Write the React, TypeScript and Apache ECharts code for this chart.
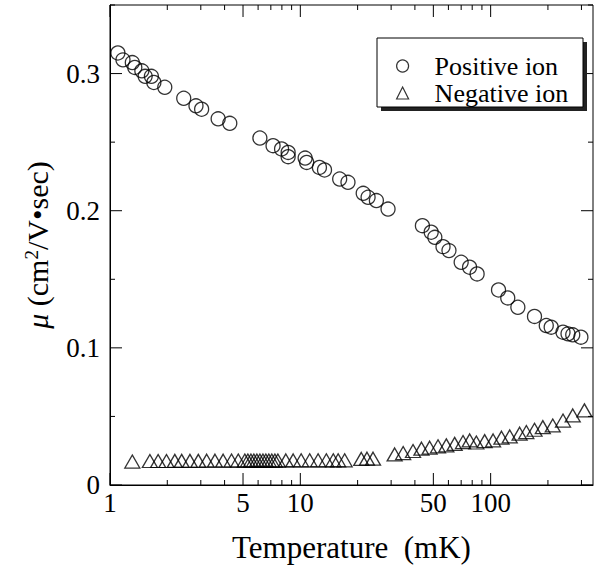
import React, { useEffect, useRef } from "react";
import * as echarts from "echarts";

// ---- data ----
const posT = [1.10, 1.17, 1.31, 1.35, 1.47, 1.53, 1.65, 1.70, 1.94, 2.44, 2.83, 3.03, 3.70, 4.26, 6.13, 7.19, 7.97, 8.63, 8.63, 10.6, 10.8, 12.6, 13.4, 16.1, 17.8, 21.4, 22.7, 25.1, 28.9, 43.8, 48.7, 50.9, 56.2, 60.4, 70.0, 77.5, 84.9, 110, 123, 139, 170, 196, 208, 240, 255, 270, 298];
const posMu = [0.315, 0.310, 0.308, 0.3045, 0.302, 0.298, 0.298, 0.2935, 0.290, 0.282, 0.2765, 0.274, 0.267, 0.2637, 0.253, 0.2474, 0.245, 0.2425, 0.2394, 0.2384, 0.2352, 0.2316, 0.2297, 0.2231, 0.2207, 0.2127, 0.2098, 0.2074, 0.2012, 0.1891, 0.1843, 0.1806, 0.1738, 0.1709, 0.1624, 0.1588, 0.1539, 0.1422, 0.1364, 0.1296, 0.1229, 0.1163, 0.1151, 0.1114, 0.1102, 0.1095, 0.1078];

const negT = [1.31, 1.62, 1.79, 1.98, 2.19, 2.38, 2.63, 2.91, 3.22, 3.56, 3.93, 4.35, 4.72, 5.11, 5.30, 5.50, 5.70, 5.91, 6.13, 6.36, 6.59, 6.83, 7.08, 7.35, 7.62, 8.39, 9.17, 10.1, 11.2, 12.4, 13.7, 14.9, 15.8, 17.1, 20.9, 22.4, 24.1, 31.3, 34.7, 39.1, 43.3, 47.8, 52.9, 58.5, 64.7, 71.6, 77.6, 84.1, 93.0, 103, 114, 126, 142, 154, 170, 188, 212, 240, 270, 311];
const negMu = [0.0171, 0.0175, 0.0175, 0.0175, 0.0176, 0.0176, 0.0176, 0.0176, 0.0177, 0.0177, 0.0177, 0.0178, 0.0178, 0.0178, 0.0178, 0.0178, 0.0178, 0.0178, 0.0178, 0.0178, 0.0178, 0.0178, 0.0178, 0.0178, 0.0178, 0.0179, 0.0179, 0.0180, 0.0180, 0.0180, 0.0180, 0.0180, 0.0180, 0.0180, 0.0190, 0.0192, 0.0192, 0.0223, 0.0233, 0.0248, 0.0265, 0.0272, 0.0282, 0.0289, 0.0300, 0.0313, 0.0325, 0.0310, 0.0320, 0.0325, 0.0345, 0.0354, 0.0374, 0.0386, 0.0403, 0.0422, 0.0434, 0.0470, 0.0507, 0.0544];

const xTicks = [1, 2, 3, 4, 5, 6, 7, 8, 9, 10, 20, 30, 40, 50, 60, 70, 80, 90, 100, 200, 300];
const xLabels = [1, 5, 10, 50, 100];
const yTicks = [0, 0.05, 0.1, 0.15, 0.2, 0.25, 0.3, 0.35];
const yMajor = [0, 0.1, 0.2, 0.3];

const X_MIN = 1;
const X_MAX = 345;
const Y_MIN = 0;
const Y_MAX = 0.35;

const FONT = "Liberation Serif";

export default function App() {
  const ref = useRef<HTMLDivElement>(null);

  useEffect(() => {
    if (!ref.current) return;
    const chart = echarts.init(ref.current, undefined, { renderer: "svg" });

    const posData = posT.map((t, i) => [t, posMu[i]]);
    const negData = negT.map((t, i) => [t, negMu[i]]);

    const option: any = {
      animation: false,
      backgroundColor: "#fff",
      grid: {
        left: 110,
        top: 5,
        right: 3,
        bottom: 80,
        show: true,
        borderColor: "#000",
        borderWidth: 1,
        backgroundColor: "transparent",
      },
      xAxis: {
        type: "log",
        logBase: 10,
        min: X_MIN,
        max: X_MAX,
        axisLine: { show: true, lineStyle: { color: "#000", width: 1 } },
        axisTick: { show: false },
        axisLabel: { show: false },
        splitLine: { show: false },
        name: "Temperature  (mK)",
        nameLocation: "middle",
        nameGap: 47,
        nameTextStyle: { fontFamily: FONT, fontSize: 31, color: "#000" },
      },
      yAxis: {
        type: "value",
        min: Y_MIN,
        max: Y_MAX,
        interval: 0.05,
        axisLine: { show: true, lineStyle: { color: "#000", width: 1 } },
        axisTick: { show: false },
        splitLine: { show: false },
        axisLabel: {
          margin: 10,
          fontFamily: FONT,
          fontSize: 27,
          color: "#000",
          formatter: (v: number) => {
            const k = Math.round(v * 100);
            if (k % 10 !== 0) return "";
            return k === 0 ? "0" : (k / 100).toFixed(1);
          },
        },
        name: "{i|μ} (cm{sup|2}/V•sec)",
        nameLocation: "middle",
        nameGap: 58,
        nameTextStyle: {
          fontFamily: FONT,
          fontSize: 30,
          color: "#000",
          rich: {
            i: { fontFamily: FONT, fontSize: 30, fontStyle: "italic", color: "#000" },
            sup: { fontFamily: FONT, fontSize: 19, verticalAlign: "top", color: "#000" },
          },
        },
      },
      legend: {
        orient: "vertical",
        left: 391,
        top: 48,
        itemWidth: 12,
        itemHeight: 12,
        itemGap: 1,
        textStyle: {
          fontFamily: FONT,
          fontSize: 26,
          lineHeight: 26,
          color: "#000",
          padding: [0, 0, 0, 21],
        },
        data: [
          { name: "Positive ion", icon: "circle", itemStyle: { color: "transparent", borderColor: "#000", borderWidth: 1.2 } },
          { name: "Negative ion", icon: "triangle", itemStyle: { color: "transparent", borderColor: "#000", borderWidth: 1.2 } },
        ],
        z: 10,
      },
      graphic: [
        { type: "rect", z: 5, shape: { x: 381, y: 42, width: 206, height: 69 }, style: { fill: "#222" }, silent: true },
        { type: "rect", z: 6, shape: { x: 377, y: 38, width: 206, height: 69 }, style: { fill: "#fff", stroke: "#000", lineWidth: 1 }, silent: true },
      ],
      series: [
        {
          name: "Positive ion",
          type: "scatter",
          symbol: "circle",
          symbolSize: 14,
          itemStyle: { color: "transparent", borderColor: "#000", borderWidth: 1.3 },
          data: posData,
          z: 3,
        },
        {
          name: "Negative ion",
          type: "scatter",
          symbol: "triangle",
          symbolSize: [15, 13],
          itemStyle: { color: "transparent", borderColor: "#000", borderWidth: 1.3 },
          data: negData,
          z: 3,
        },
        {
          name: "xTicks",
          type: "custom",
          silent: true,
          clip: false,
          data: xTicks.map((v) => [v, Y_MIN]),
          renderItem: (params: any, api: any) => {
            const v = api.value(0);
            const p = api.coord([v, Y_MIN]);
            const cs = params.coordSys;
            const bottom = cs.y + cs.height;
            const top = cs.y;
            const major = xLabels.indexOf(v) >= 0;
            const len = major ? 12 : 5;
            const children: any[] = [
              { type: "line", shape: { x1: p[0], y1: bottom, x2: p[0], y2: bottom - len }, style: { stroke: "#000", lineWidth: 1 } },
              { type: "line", shape: { x1: p[0], y1: top, x2: p[0], y2: top + len }, style: { stroke: "#000", lineWidth: 1 } },
            ];
            if (xLabels.indexOf(v) >= 0) {
              children.push({
                type: "text",
                x: p[0],
                y: bottom + 4,
                style: {
                  text: String(v),
                  fill: "#000",
                  fontFamily: FONT,
                  fontSize: 27,
                  align: "center",
                  verticalAlign: "top",
                },
              });
            }
            return { type: "group", children };
          },
        },
        {
          name: "yTicks",
          type: "custom",
          silent: true,
          clip: false,
          data: yTicks.map((v) => [X_MIN, v]),
          renderItem: (params: any, api: any) => {
            const v = api.value(1);
            const p = api.coord([X_MIN, v]);
            const cs = params.coordSys;
            const left = cs.x;
            const right = cs.x + cs.width;
            const major = yMajor.some((m) => Math.abs(m - v) < 1e-9);
            const len = major ? 12 : 5;
            return {
              type: "group",
              children: [
                { type: "line", shape: { x1: left, y1: p[1], x2: left + len, y2: p[1] }, style: { stroke: "#000", lineWidth: 1 } },
                { type: "line", shape: { x1: right, y1: p[1], x2: right - len, y2: p[1] }, style: { stroke: "#000", lineWidth: 1 } },
              ],
            };
          },
        },
      ],
    };

    chart.setOption(option);
    return () => chart.dispose();
  }, []);

  return (
    <div
      ref={ref}
      style={{ position: "fixed", left: 0, top: 0, width: 596, height: 568, background: "#fff", fontFamily: FONT }}
    />
  );
}
